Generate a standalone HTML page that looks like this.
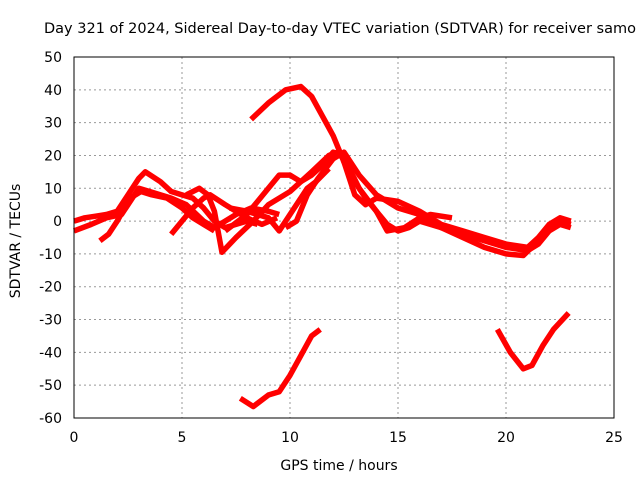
<!DOCTYPE html>
<html><head><meta charset="utf-8"><style>
body{margin:0;background:#fff;}
svg{display:block;font-family:"DejaVu Sans","Liberation Sans",sans-serif;}
</style></head><body>
<svg id="chart" width="640" height="480" viewBox="0 0 640 480">
<text x="44" y="33" font-size="14" textLength="592" lengthAdjust="spacingAndGlyphs">Day 321 of 2024, Sidereal Day-to-day VTEC variation (SDTVAR) for receiver samo</text>
<g id="grid"></g><g id="ticks"></g><g id="series"></g>
<rect x="74" y="57" width="540" height="361" fill="none" stroke="#000" stroke-width="1"/>
<text x="339" y="470" font-size="14" text-anchor="middle">GPS time / hours</text>
<text x="20" y="241" font-size="14" text-anchor="middle" transform="rotate(-90 20 241)">SDTVAR / TECUs</text>
</svg>
<script>
const xTicks=[0,5,10,15,20,25];
const yTicks=[50,40,30,20,10,0,-10,-20,-30,-40,-50,-60];
const s1=[[8.2,31],[9,36],[9.8,40],[10.5,41],[11,38],[11.5,32],[12,26],[12.5,18],[13,12],[13.5,7],[14,3],[14.5,-1],[15,-3],[15.5,-2],[16,0],[17,-2],[18,-4],[19,-6],[20,-8],[21,-9],[21.5,-7],[22,-3],[22.5,-1],[23,-2]];
const s2=[[0,0],[0.5,1],[1,1.5],[1.5,2],[2,3],[2.5,8],[3,13],[3.3,15],[4,12],[4.5,9],[5,8],[5.5,7],[6,4],[6.5,0],[7,-2],[7.5,-1],[8,0],[8.5,-1]];
const s3=[[0,-3],[0.8,-1],[1.5,1],[2.2,2],[2.8,8],[3,10],[3.5,9],[4.5,7],[5.2,5],[6,0],[6.5,-2],[7,0],[7.5,2],[8.2,4],[9,3],[9.5,2]];
const s4=[[1.2,-6],[1.6,-4],[2,0],[2.6,7],[3.1,9],[3.6,8],[4.3,7],[5,4],[5.5,1],[6,-1],[6.5,-3]];
const s5=[[5.2,8],[5.8,10],[6.2,8],[6.5,3],[6.85,-9.5],[7.5,-5],[8.3,0],[9,5],[10,9],[11,15],[11.8,20],[12.2,21],[12.6,18],[13.2,10],[14,3],[14.5,-3],[15.3,-2],[16,1],[16.5,2],[17.5,1]];
const s6=[[7,-3],[8,2],[9,10],[9.5,14],[10,14],[10.5,12],[11,14],[11.5,17],[12,21],[12.4,20],[13,8],[13.5,5],[14,7],[15,6],[16,3],[17,-1],[18,-3],[19,-5],[20,-7],[21,-8],[21.5,-5],[22,-1],[22.5,1],[23,0]];
const s7=[[4.5,-4],[5,0],[5.5,4],[6,7],[6.3,8],[7,5],[7.5,3],[8,1],[8.7,-1],[9.4,1]];
const s8=[[7.2,4],[8,3],[9,1],[9.5,-3],[10,2],[10.8,10],[11.2,12],[11.8,16]];
const s9=[[9.8,-2],[10.3,0],[10.8,8],[11.3,13],[12,19],[12.5,21],[13.2,14],[14,8],[15,4],[16,2],[17,-2],[18,-5],[19,-8],[20,-10],[20.8,-10.5],[21.5,-6],[22,-2],[22.5,0],[23,-1]];
const s10=[[7.7,-54],[8.3,-56.5],[9,-53],[9.5,-52],[10,-47],[10.5,-41],[11,-35],[11.4,-33]];
const s11=[[19.6,-33],[20.2,-40],[20.8,-45],[21.2,-44],[21.7,-38],[22.2,-33],[22.9,-28]];
const allSeries=[s1,s2,s3,s4,s5,s6,s7,s8,s9,s10,s11];
const X=h=>74+h*21.6, Y=v=>57+(50-v)*(361/110);
const NS="http://www.w3.org/2000/svg";
const grid=document.getElementById('grid'), tk=document.getElementById('ticks'), sg=document.getElementById('series');
function mk(tag,attrs,parent){const e=document.createElementNS(NS,tag);for(const k in attrs)e.setAttribute(k,attrs[k]);parent.appendChild(e);return e;}
xTicks.forEach(t=>{
  if(t>0&&t<25){const g=mk('line',{x1:X(t),x2:X(t),y1:57,y2:418,stroke:'#999','stroke-dasharray':'2,3'},grid);
  
  }
  const l=mk('text',{x:X(t),y:442,'font-size':14,'text-anchor':'middle'},tk);l.textContent=t;
  
  
});
yTicks.forEach(t=>{
  if(t<50&&t>-60){const g=mk('line',{x1:74,x2:614,y1:Y(t),y2:Y(t),stroke:'#999','stroke-dasharray':'2,3'},grid);
  
  }
  const l=mk('text',{x:62,y:Y(t)+5,'font-size':14,'text-anchor':'end'},tk);l.textContent=t;
  
  
});
allSeries.forEach((s,i)=>{
  const p=mk('polyline',{points:s.map(d=>X(d[0])+','+Y(d[1])).join(' '),fill:'none',stroke:'#f00','stroke-width':5.5,'stroke-linejoin':'round'},sg);
  
  
});
</script>
</body></html>
